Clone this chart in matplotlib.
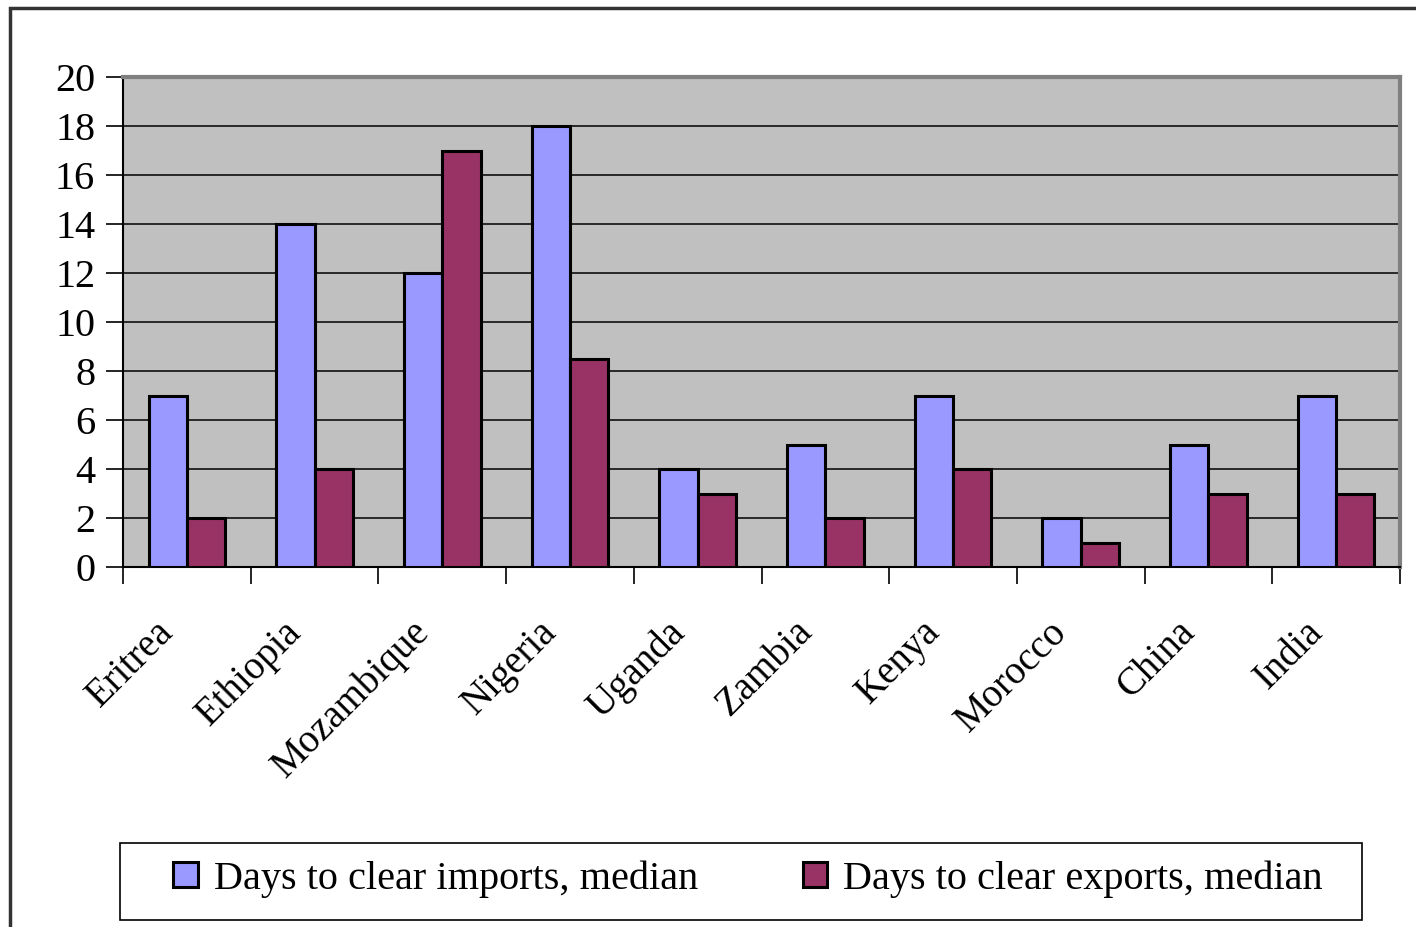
import matplotlib.pyplot as plt
import matplotlib.patches as patches
import numpy as np

# Datos
paises = ['Eritrea', 'Ethiopia', 'Mozambique', 'Nigeria', 'Uganda',
          'Zambia', 'Kenya', 'Morocco', 'China', 'India']
importaciones = [7, 14, 12, 18, 4, 5, 7, 2, 5, 7]
exportaciones = [2, 4, 17, 8.5, 3, 2, 4, 1, 3, 3]
etiquetas_y = [0, 2, 4, 6, 8, 10, 12, 14, 16, 18, 20]

plt.rcParams['font.family'] = ['Liberation Serif', 'DejaVu Serif']

W, H = 1416, 927
fig = plt.figure(figsize=(W / 100, H / 100), dpi=100)
ax = fig.add_axes([123 / W, 1 - 567 / H, (1400 - 123) / W, (567 - 77) / H])

x = np.arange(len(paises))
ancho = 0.3
b1 = ax.bar(x - ancho / 2, importaciones, ancho, color='#9999FF',
            edgecolor='black', linewidth=2.2, zorder=3,
            label='Days to clear imports, median')
b2 = ax.bar(x + ancho / 2, exportaciones, ancho, color='#993366',
            edgecolor='black', linewidth=2.2, zorder=3,
            label='Days to clear exports, median')

ax.set_facecolor('#C0C0C0')
ax.set_xlim(-0.5, len(paises) - 0.5)
ax.set_ylim(0, 20)
ax.set_yticks(etiquetas_y)
ax.set_yticklabels([str(v) for v in etiquetas_y], fontsize=29)
ax.yaxis.grid(True, color='black', linewidth=1.1, zorder=1)
ax.set_axisbelow(True)

# ticks del eje x en los limites de cada categoria
ax.set_xticks(np.arange(-0.5, len(paises), 1.0))
ax.set_xticklabels([])
ax.tick_params(axis='x', length=12, width=1.2, direction='out', color='black')
ax.tick_params(axis='y', length=12, width=1.2, direction='out', pad=8)
for xi, nombre in zip(x, paises):
    ax.text(xi - 0.25, -1.9, nombre, rotation=45, rotation_mode='anchor',
            ha='right', va='top', fontsize=28)

ax.spines['left'].set_color('black')
ax.spines['left'].set_linewidth(1.5)
ax.spines['bottom'].set_color('black')
ax.spines['bottom'].set_linewidth(1.5)
ax.spines['top'].set_color('#808080')
ax.spines['top'].set_linewidth(3)
ax.spines['right'].set_color('#808080')
ax.spines['right'].set_linewidth(3)

# recuadro de la leyenda
caja = patches.Rectangle((120 / W, 1 - 920 / H), 1242 / W, 77 / H,
                         transform=fig.transFigure, fill=True,
                         facecolor='white', edgecolor='black', linewidth=1.2)
fig.patches.append(caja)

# leyenda
fig.legend(handles=[b1, b2], loc='center',
           bbox_to_anchor=(748 / W, 1 - 879 / H),
           ncol=2, fontsize=29, frameon=False,
           handlelength=0.6, handleheight=0.6,
           handletextpad=0.4, columnspacing=2.6, borderaxespad=0)

# marco exterior
marco = patches.Rectangle((10 / W, -0.05), 1.2, 0.05 + 1 - 8 / H,
                          transform=fig.transFigure, fill=False,
                          edgecolor='#333333', linewidth=2.5, clip_on=False)
fig.patches.append(marco)

fig.savefig('out.png', dpi=100)
